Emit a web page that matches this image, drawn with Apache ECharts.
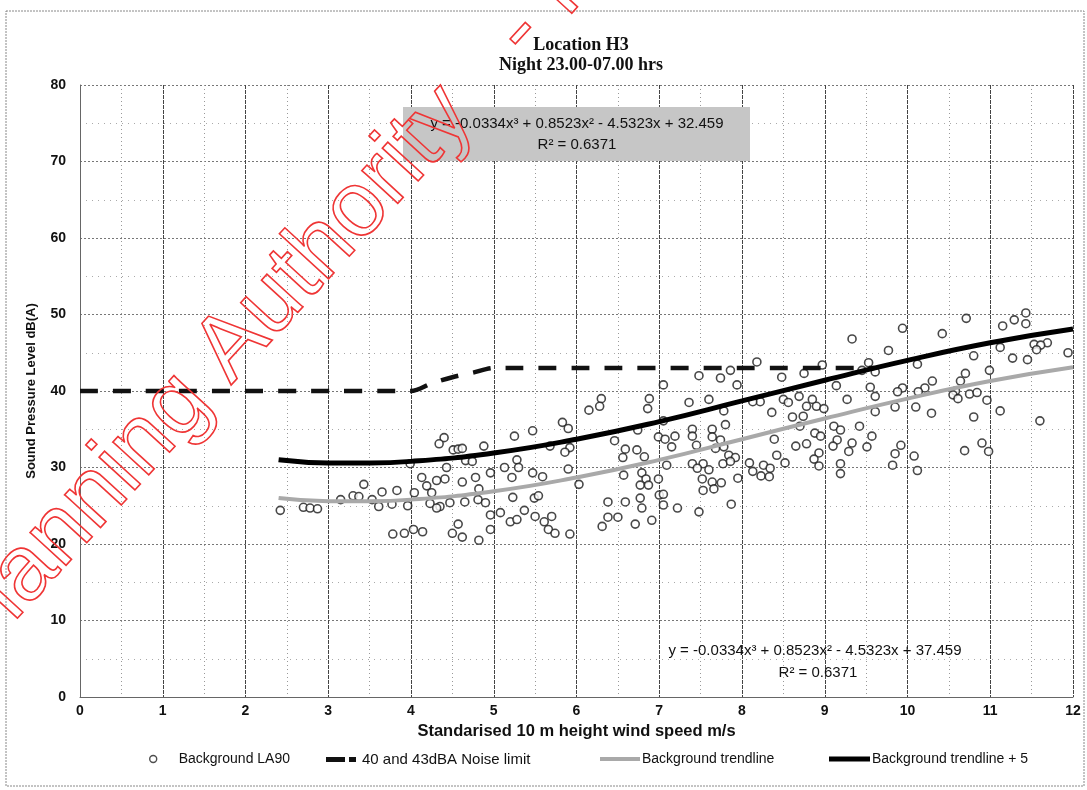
<!DOCTYPE html>
<html>
<head>
<meta charset="utf-8">
<script src="https://cdn.jsdelivr.net/npm/echarts@6/dist/echarts.min.js"></script>
<style>
html,body{margin:0;padding:0;background:#fff;}
#chart{width:1087px;height:790px;}
</style>
</head>
<body>
<div id="chart"></div>
<script>
// ---- Data ----
const titleLines = ['Location H3', 'Night 23.00-07.00 hrs'];
const xTicks = [0,1,2,3,4,5,6,7,8,9,10,11,12];
const yTicks = [0,10,20,30,40,50,60,70,80];

// Background LA90 scatter: wind speed (m/s) and level dB(A)
const windSpeed = [
 4.40,4.34,4.51,4.57,3.99,4.43,4.13,4.31,4.41,3.43,4.19,3.65,3.83,4.04,4.25,3.30,3.37,3.15,3.53,3.61,
 3.77,3.96,4.23,4.35,4.47,4.31,2.42,2.70,2.78,2.87,3.78,3.92,4.03,4.14,4.50,4.57,
 6.30,6.28,6.15,6.88,6.86,5.83,5.90,5.47,5.25,6.74,6.99,6.46,4.62,4.88,5.92,5.86,5.68,6.59,6.73,6.56,
 6.82,4.66,4.74,5.13,5.28,5.30,5.90,5.47,5.59,5.22,4.96,4.78,4.62,6.03,6.57,6.79,6.84,6.77,6.87,6.99,
 4.82,4.65,4.81,4.90,5.23,5.49,5.54,6.38,6.59,6.77,6.79,7.00,4.96,5.08,5.37,5.20,5.28,5.50,5.61,5.70,
 5.66,5.74,5.92,4.62,4.96,4.82,6.38,6.50,6.31,6.71,6.91,
 9.33,8.18,8.97,7.86,7.48,7.74,8.48,8.75,7.94,7.05,9.14,9.45,8.69,8.85,9.27,8.50,8.56,8.22,8.13,7.60,
 7.36,8.78,8.90,8.99,7.78,8.36,8.74,8.61,8.70,7.05,7.80,7.64,7.40,7.40,9.11,9.19,9.42,7.19,7.07,7.15,
 7.64,7.74,8.88,8.95,8.39,7.45,7.68,7.78,8.65,8.78,9.15,9.10,9.33,9.51,7.84,7.92,8.42,8.93,9.29,7.09,
 7.40,7.53,7.77,7.86,8.09,8.26,8.52,8.87,8.93,7.46,7.60,8.13,8.34,9.19,7.52,7.64,7.75,7.95,8.23,8.33,
 9.19,7.53,7.66,7.05,7.05,7.22,7.48,7.87,
 11.43,10.71,11.29,11.15,11.43,9.94,10.42,11.53,11.69,11.61,11.56,11.12,9.77,11.94,10.80,11.27,11.45,9.53,10.12,10.99,
 10.70,9.61,10.30,10.64,9.55,9.94,10.21,10.13,9.88,10.58,10.75,10.84,10.55,10.61,9.61,10.96,10.10,9.85,9.61,11.12,
 10.29,10.80,11.60,9.57,10.90,9.92,9.85,10.08,10.69,10.98,9.82,10.12
];
const bgLevel = [
 33.9,33.1,32.3,32.4,30.5,30.0,28.7,28.3,28.5,27.8,27.6,26.8,27.0,26.7,26.7,26.3,26.2,25.8,25.8,24.9,
 25.2,25.0,25.3,24.9,25.4,24.7,24.4,24.8,24.7,24.6,21.3,21.4,21.9,21.6,21.4,22.6,
 39.0,38.0,37.5,39.0,37.7,35.9,35.1,34.8,34.1,34.9,34.0,33.5,32.5,32.8,32.6,32.0,32.8,32.4,32.3,31.3,
 31.4,30.9,30.8,30.0,31.0,30.0,29.8,29.3,28.8,28.7,29.3,28.7,28.1,27.8,29.0,29.3,28.5,27.7,27.7,28.5,
 27.2,25.5,25.8,25.4,26.1,26.0,26.3,25.5,25.5,26.0,24.7,26.4,23.8,24.1,24.4,22.9,23.2,23.6,22.9,23.6,
 21.9,21.4,21.3,20.9,21.9,20.5,23.5,23.5,22.3,22.6,23.1,
 46.8,43.8,43.4,42.7,42.0,41.7,41.8,42.3,40.8,40.8,40.7,42.7,39.3,38.9,38.9,38.9,38.5,38.6,38.6,38.9,
 38.5,38.0,38.0,37.7,37.4,37.2,36.7,36.6,35.4,36.1,35.6,35.0,35.0,34.1,35.4,34.9,35.4,34.1,33.7,32.7,
 34.0,33.6,34.5,34.1,33.7,32.9,32.5,32.7,32.8,33.1,33.6,32.8,33.2,32.7,31.6,31.3,31.6,31.9,32.1,30.3,
 30.5,30.5,30.5,30.8,30.6,30.3,30.6,31.1,30.2,29.9,29.7,29.5,29.9,30.5,28.5,28.1,28.0,28.6,28.9,28.8,
 29.2,27.0,27.2,26.5,25.1,24.7,24.2,25.2,
 50.2,49.5,49.3,48.5,48.8,48.2,47.5,46.1,46.3,46.0,45.4,45.7,45.3,45.0,44.6,44.3,44.1,43.7,43.5,42.7,
 42.3,42.5,41.3,41.3,40.5,40.4,40.4,39.9,39.9,40.0,39.6,39.8,39.5,39.0,39.3,38.8,37.9,37.9,37.3,37.4,
 37.1,36.6,36.1,34.1,33.2,32.9,31.8,31.5,32.2,32.1,30.3,29.6
];

// 40 and 43 dBA noise limit
const limitX = [0, 4, 4.25, 4.5, 4.75, 5, 9.6];
const limitY = [40, 40, 41.0, 41.8, 42.4, 43, 43];

// Background trendline and trendline + 5
const trendX = [2.4, 3, 3.5, 4, 5, 6, 7, 8, 9, 10, 11, 12];
const trendY = [26.0, 25.6, 25.6, 25.8, 26.9, 28.7, 31.0, 33.7, 36.4, 39.0, 41.3, 43.1];
const trendPlus5Y = [31.0, 30.6, 30.6, 30.8, 31.9, 33.7, 36.0, 38.7, 41.4, 44.0, 46.3, 48.1];

const eqTop = ['y = -0.0334x³ + 0.8523x² - 4.5323x + 32.459', 'R² = 0.6371'];
const eqBottom = ['y = -0.0334x³ + 0.8523x² - 4.5323x + 37.459', 'R² = 0.6371'];
const seriesNames = ['Background LA90', '40 and 43dBA Noise limit', 'Background trendline', 'Background trendline + 5'];
const watermark = 'Planning Authority   - Inspection Purposes Only';

// ---- Build ----
const zip = (xs, ys) => xs.map((x, i) => [x, ys[i]]);
const SANS = '"Liberation Sans", Arial, sans-serif';
const chart = echarts.init(document.getElementById('chart'), null, {renderer: 'canvas'});

const legendText = (pad, size) => ({fontFamily: SANS, fontSize: size || 14, color: '#111', padding: [0, 0, 0, pad]});

const option = {
  backgroundColor: '#ffffff',
  animation: false,
  title: {
    text: titleLines.join('\n'),
    left: 576, top: 30, textAlign: 'center',
    textStyle: {fontFamily: '"Liberation Serif", "Times New Roman", serif', fontWeight: 'bold', fontSize: 18, lineHeight: 20, color: '#111'}
  },
  legend: [
    {data: [{name: seriesNames[0], icon: 'circle'}], left: 149, top: 752, padding: 0, itemWidth: 7, itemHeight: 7,
      itemStyle: {color: '#ffffff', borderColor: '#222', borderWidth: 1.4},
      textStyle: legendText(17)},
    {data: [{name: seriesNames[1], icon: 'path://M0,0h19v5h-19z M23,0h7v5h-7z'}], left: 326, top: 752, padding: 0,
      itemWidth: 30, itemHeight: 5, textStyle: legendText(1, 15)},
    {data: [{name: seriesNames[2], icon: 'path://M0,0h40v4h-40z'}], left: 600, top: 752, padding: 0,
      itemWidth: 40, itemHeight: 4, textStyle: legendText(-3)},
    {data: [{name: seriesNames[3], icon: 'path://M0,0h41v5h-41z'}], left: 829, top: 752, padding: 0,
      itemWidth: 41, itemHeight: 5, textStyle: legendText(-3)}
  ],
  grid: {left: 80, right: 14, top: 85, bottom: 93, containLabel: false},
  xAxis: {
    type: 'value', min: 0, max: 12, interval: 1,
    name: 'Standarised 10 m height wind speed m/s',
    nameLocation: 'middle', nameGap: 25,
    nameTextStyle: {fontFamily: SANS, fontWeight: 'bold', fontSize: 16.5, color: '#111'},
    axisLine: {show: true, lineStyle: {color: '#666', width: 1}},
    axisTick: {show: false},
    axisLabel: {fontFamily: SANS, fontWeight: 'bold', fontSize: 14, color: '#111', margin: 7,
      formatter: v => xTicks.includes(v) ? String(v) : ''},
    splitLine: {show: true, lineStyle: {color: '#444', width: 1, type: [4, 1]}},
    minorTick: {show: false, splitNumber: 2},
    minorSplitLine: {show: true, lineStyle: {color: '#999', width: 1, type: [1, 3]}}
  },
  yAxis: {
    type: 'value', min: 0, max: 80, interval: 10,
    name: 'Sound Pressure Level dB(A)',
    nameLocation: 'middle', nameGap: 42, nameRotate: 90,
    nameTextStyle: {fontFamily: SANS, fontWeight: 'bold', fontSize: 13, color: '#111'},
    axisLine: {show: true, lineStyle: {color: '#666', width: 1}},
    axisTick: {show: false},
    axisLabel: {fontFamily: SANS, fontWeight: 'bold', fontSize: 14, color: '#111', margin: 14,
      formatter: v => yTicks.includes(v) ? String(v) : ''},
    splitLine: {show: true, lineStyle: {color: '#777', width: 1, type: [2, 2]}},
    minorTick: {show: false, splitNumber: 2},
    minorSplitLine: {show: true, lineStyle: {color: '#aaa', width: 1, type: [1, 5]}}
  },
  series: [
    {
      name: seriesNames[0], type: 'scatter', z: 2,
      data: zip(windSpeed, bgLevel),
      symbol: 'circle', symbolSize: 8,
      itemStyle: {color: '#ffffff', borderColor: '#1a1a1a', borderWidth: 1.6}
    },
    {
      name: seriesNames[2], type: 'line', z: 3,
      data: zip(trendX, trendY), smooth: true, showSymbol: false, symbol: 'none',
      itemStyle: {color: '#a9a9a9'},
      lineStyle: {color: '#a9a9a9', width: 4}
    },
    {
      name: seriesNames[1], type: 'line', z: 4,
      data: zip(limitX, limitY), smooth: 0.3, showSymbol: false, symbol: 'none',
      itemStyle: {color: '#111'},
      lineStyle: {color: '#111', width: 4.5, type: [18, 15], cap: 'butt'}
    },
    {
      name: seriesNames[3], type: 'line', z: 5,
      data: zip(trendX, trendPlus5Y), smooth: true, showSymbol: false, symbol: 'none',
      itemStyle: {color: '#000'},
      lineStyle: {color: '#000', width: 5}
    }
  ],
  graphic: [
    {type: 'rect', z: -10, shape: {x: 6, y: 11, width: 1078, height: 775},
      style: {fill: 'none', stroke: '#888', lineWidth: 1, lineDash: [2, 1]}},
    {type: 'rect', z: 1, shape: {x: 403, y: 107, width: 347, height: 54},
      style: {fill: '#c6c6c6', stroke: 'none'}},
    {type: 'text', z: 10, x: 577, y: 124,
      style: {text: eqTop[0], font: '15px ' + SANS, fill: '#111', align: 'center', verticalAlign: 'middle'}},
    {type: 'text', z: 10, x: 577, y: 145,
      style: {text: eqTop[1], font: '15px ' + SANS, fill: '#111', align: 'center', verticalAlign: 'middle'}},
    {type: 'text', z: 10, x: 815, y: 651,
      style: {text: eqBottom[0], font: '15px ' + SANS, fill: '#111', align: 'center', verticalAlign: 'middle'}},
    {type: 'text', z: 10, x: 818, y: 673,
      style: {text: eqBottom[1], font: '15px ' + SANS, fill: '#111', align: 'center', verticalAlign: 'middle'}},
    {type: 'text', z: 100, x: -13, y: 682, rotation: 47.5 * Math.PI / 180,
      style: {text: watermark, font: '92px ' + SANS, fill: 'rgba(0,0,0,0)', stroke: '#ef3535', lineWidth: 1.6,
        align: 'left', verticalAlign: 'bottom'}}
  ]
};
chart.setOption(option);
</script>
</body>
</html>
